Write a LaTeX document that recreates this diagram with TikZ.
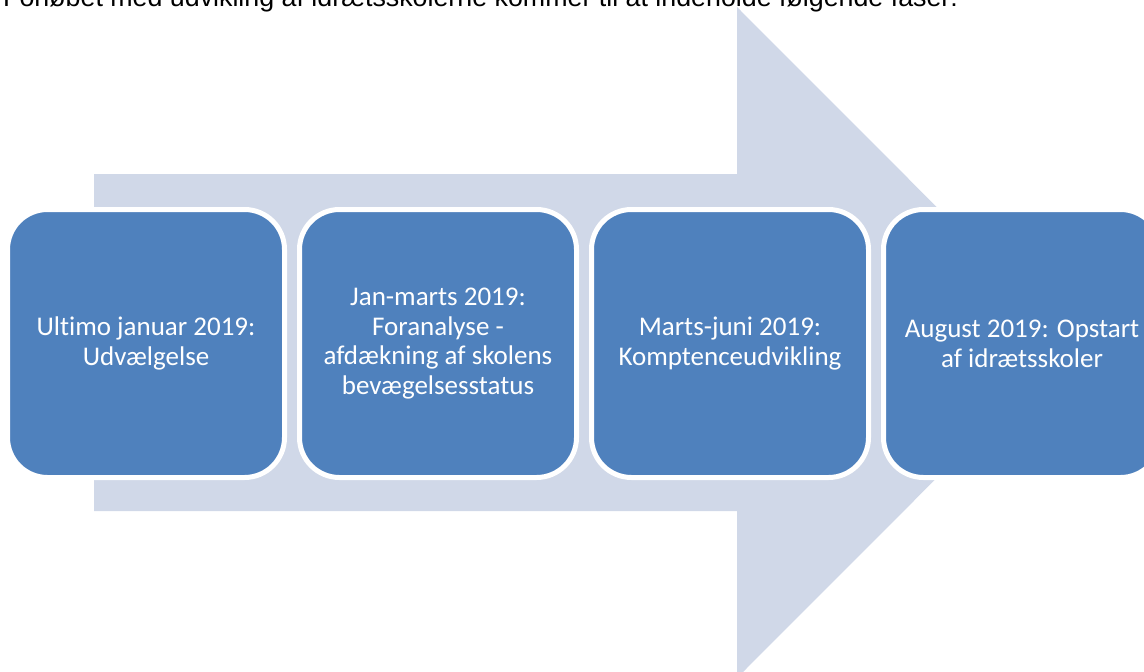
\documentclass[tikz,border=0pt]{standalone}
\usepackage{fontspec}
\setmainfont{Carlito}[Ligatures=NoCommon]
\newfontfamily\arialfont{Liberation Sans}
\usetikzlibrary{positioning}
\definecolor{fasefill}{HTML}{4F81BD}
\definecolor{pilfill}{HTML}{D0D8E8}

\begin{document}
\begin{tikzpicture}[x=1pt,y=-1pt]
  \tikzset{FaseStyle/.style={rectangle,rounded corners=40pt,draw=white,line width=5pt,
             fill=fasefill,text=white,font=\fontsize{27}{29.8}\selectfont,align=center,
             minimum width=277pt,minimum height=268pt,inner sep=0pt},
           PilStyle/.style={fill=pilfill,draw=none}}
  \useasboundingbox (0,0) rectangle (1144,672);
  \node[anchor=base west,inner sep=0pt,font=\arialfont\fontsize{26.8}{30}\selectfont] (titel) at (3,6.5)
    {Forløbet med udvikling af idrætsskolerne kommer til at indeholde følgende faser:};
  % pil
  \fill[PilStyle] (94,174) -- (737,174) -- (737,7) -- (1072,342.5) -- (737,678)
    -- (737,511) -- (94,511) -- cycle;
  % faser
  \node[FaseStyle] (A) at (146,343.5) {Ultimo januar 2019:\\Udvælgelse};
  \node[FaseStyle,right=10pt of A] (B) {Jan-marts 2019:\\Foranalyse -\\afdækning af skolens\\bevægelsesstatus};
  \node[FaseStyle,right=10pt of B] (C) {Marts-juni 2019:\\Komptenceudvikling};
  \node[FaseStyle,right=10pt of C] (D) {August 2019: Opstart\\af idrætsskoler};
\end{tikzpicture}
\end{document}
